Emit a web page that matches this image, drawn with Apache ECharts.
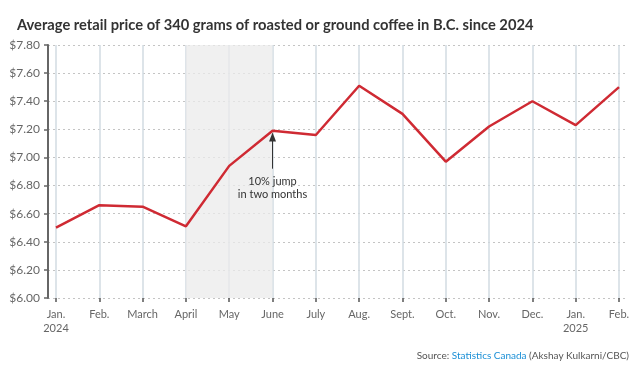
<!DOCTYPE html>
<html><head><meta charset="utf-8">
<script src="https://cdn.jsdelivr.net/npm/echarts@6/dist/echarts.min.js"></script>
<style>html,body{margin:0;padding:0;background:#fff}#c{width:640px;height:371px}</style>
</head><body><div id="c"></div>
<script>
const months = ['Jan.\n2024','Feb.','March','April','May','June','July','Aug.','Sept.','Oct.','Nov.','Dec.','Jan.\n2025','Feb.'];
const prices = [6.50, 6.66, 6.65, 6.51, 6.94, 7.19, 7.16, 7.51, 7.31, 6.97, 7.22, 7.40, 7.23, 7.50];
const yTicks = [6.00, 6.20, 6.40, 6.60, 6.80, 7.00, 7.20, 7.40, 7.60, 7.80];
const shadeRange = [3, 5];
const arrowAt = 5;
const arrowFromTo = [6.92, 7.145];
const noteText = '10% jump\nin two months';
const titleText = 'Average retail price of 340 grams of roasted or ground coffee in B.C. since 2024';

const FONT = 'Lato';
const chart = echarts.init(document.getElementById('c'), null, {renderer:'canvas'});
chart.setOption({
  animation:false,
  backgroundColor:'#fff',
  title:{text:titleText,left:12,top:13,textStyle:{fontFamily:FONT,fontWeight:'bold',fontSize:14.7,color:'#333'}},
  graphic:[{type:'text',right:11,top:351,style:{
    text:'{a|Source: }{b|Statistics Canada}{a| (Akshay Kulkarni/CBC)}',
    rich:{a:{fontFamily:FONT,fontSize:10,fill:'#555'},b:{fontFamily:FONT,fontSize:10,fill:'#1a8fd6'}}}}],
  grid:[
    {left:48,right:12,top:45,bottom:73},
    {left:56,right:21,top:45,bottom:73}
  ],
  xAxis:[
    {gridIndex:0,type:'value',min:0,max:1,show:false},
    {gridIndex:1,type:'category',data:months,boundaryGap:false,
     axisLine:{show:false},
     axisTick:{show:true,length:4,lineStyle:{color:'#555',width:1.5}},
     axisLabel:{fontFamily:FONT,fontSize:11,color:'#666',margin:9,lineHeight:14,interval:0},
     splitLine:{show:true,lineStyle:{color:'#d2dbe2',width:1.5}}}
  ],
  yAxis:[
    {gridIndex:0,type:'value',min:yTicks[0],max:yTicks[yTicks.length-1],interval:0.2,
     axisLine:{show:true,lineStyle:{color:'#666',width:2}},
     axisTick:{show:true,length:4,lineStyle:{color:'#666',width:1.5}},
     axisLabel:{fontFamily:FONT,fontSize:12,color:'#666',margin:8,formatter:v=>'$'+v.toFixed(2)},
     splitLine:{show:true,lineStyle:{color:'#c4c4c4',type:[2,3],width:1}}},
    {gridIndex:1,type:'value',min:yTicks[0],max:yTicks[yTicks.length-1],show:false}
  ],
  series:[{
    type:'line',xAxisIndex:1,yAxisIndex:1,data:prices,symbol:'none',
    lineStyle:{color:'#cf2a33',width:2.5},
    markArea:{silent:true,itemStyle:{color:'rgba(235,235,235,0.75)'},
      data:[[{xAxis:shadeRange[0]},{xAxis:shadeRange[1]}]]},
    markLine:{silent:true,symbol:['none','triangle'],symbolSize:[7,9],
      lineStyle:{color:'#333',width:1,type:'solid'},
      label:{show:true,position:'start',formatter:noteText,fontFamily:FONT,fontSize:11,color:'#333',lineHeight:13,distance:6},
      data:[[{coord:[arrowAt,arrowFromTo[0]]},{coord:[arrowAt,arrowFromTo[1]]}]]},
    z:5
  }]
});
</script></body></html>
